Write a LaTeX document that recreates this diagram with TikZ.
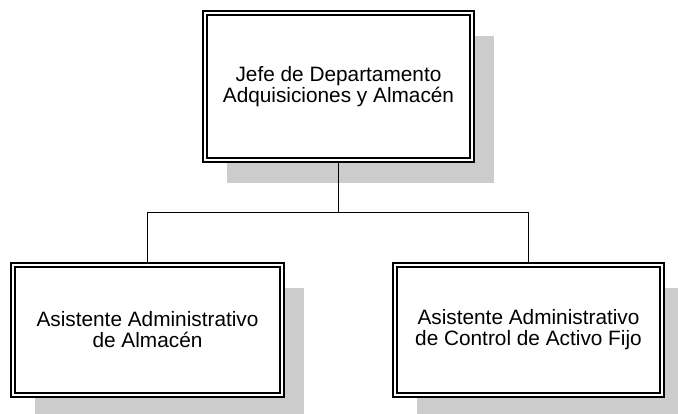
\documentclass[tikz,border=0pt]{standalone}
\usepackage{fontspec}
\setmainfont{Liberation Sans}
\usetikzlibrary{shadows}
\definecolor{shadowgray}{HTML}{CCCCCC}
\tikzset{
  orgbox/.style={draw=black, double=white, line width=1.8pt, double distance=2.4pt,
    fill=white, align=center, inner sep=0pt, outer sep=3.1pt,
    font=\fontsize{20.8}{21}\selectfont,
    drop shadow={shadow xshift=22pt, shadow yshift=-23pt, fill=shadowgray, opacity=1}},
  conn/.style={draw=black, line width=1.8pt}
}
\begin{document}
\begin{tikzpicture}[x=1pt,y=-1pt]
\useasboundingbox (0,0) rectangle (678,413);
\clip (0,0) rectangle (678,413);
\node[orgbox, minimum width=267pt, minimum height=147pt] (jefe) at (338.5,86.5)
  {Jefe de Departamento\\Adquisiciones y Almacén};
\node[orgbox, minimum width=269pt, minimum height=130pt] (alm) at (147.5,330)
  {Asistente Administrativo\\de Almacén};
\node[orgbox, minimum width=267pt, minimum height=130pt] (act) at (528.5,330)
  {Asistente Administrativo\\de Control de Activo Fijo};
\coordinate (mid) at (338.5,212.5);
\draw[conn] (jefe.south) -- (mid);
\draw[conn] (alm.north) |- (mid) -| (act.north);
\end{tikzpicture}
\end{document}
